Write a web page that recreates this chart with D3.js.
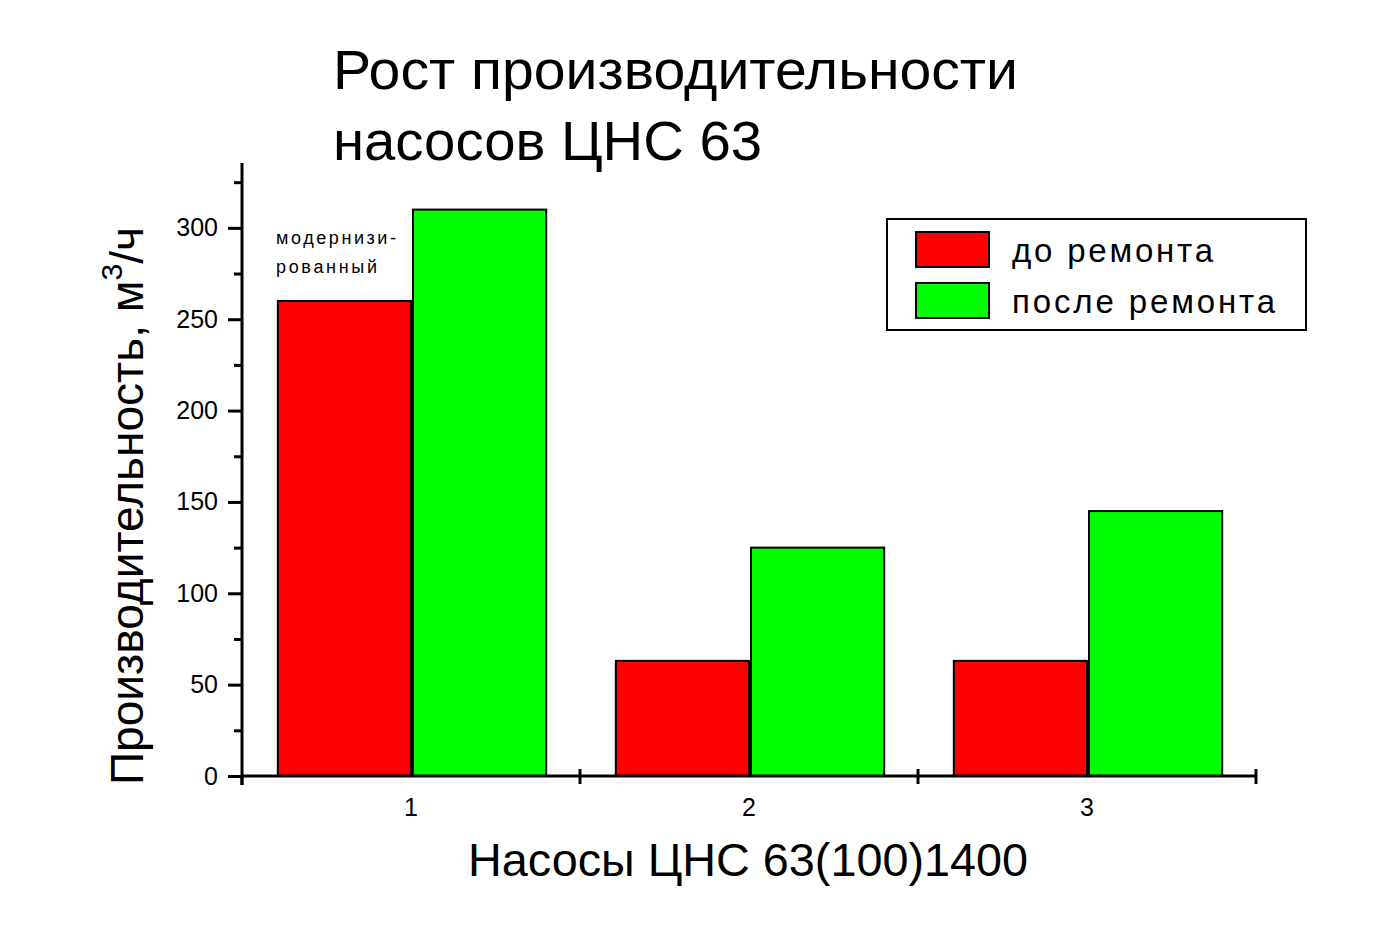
<!DOCTYPE html>
<html><head><meta charset="utf-8">
<script src="https://cdn.jsdelivr.net/npm/d3@7"></script>
<style>
html,body{margin:0;padding:0;background:#fff;}
text{font-family:"Liberation Sans",Arial,sans-serif;fill:#000;}
</style></head>
<body>
<svg id="chart" width="1400" height="950"></svg>
<script>
const categories = [1, 2, 3];
const seriesNames = ["до ремонта", "после ремонта"];
const beforeRepair = [260, 63, 63];
const afterRepair = [310, 125, 145];
const seriesColors = ["#ff0000", "#00ff00"];
const yTickValues = [0, 50, 100, 150, 200, 250, 300];
const yMinorTickValues = [25, 75, 125, 175, 225, 275, 325];
const xBoundaryTicks = [1.5, 2.5, 3.5];
const titleLines = ["Рост производительности", "насосов ЦНС 63"];
const xTitle = "Насосы ЦНС 63(100)1400";
const annotationLines = ["модернизи-", "рованный"];

const svg = d3.select("#chart");
const x = d3.scaleLinear().domain([0.5, 3.5]).range([242, 1256]);
const y = d3.scaleLinear().domain([0, 335.5]).range([776, 163]);
const barW = 0.394;

// Title
titleLines.forEach((t, i) => {
  svg.append("text").attr("x", 333).attr("y", 89 + i * 71)
    .attr("font-size", 56).attr("textLength", i === 0 ? 685 : 429)
    .attr("lengthAdjust", "spacingAndGlyphs").text(t);
});

// Bars
const seriesData = [beforeRepair, afterRepair];
seriesData.forEach((vals, s) => {
  svg.append("g").selectAll("rect").data(categories).enter().append("rect")
    .attr("x", (c) => s === 0 ? x(c - barW) : x(c) + 2)
    .attr("width", (c) => x(c) - x(c - barW) )
    .attr("y", (c, i) => y(vals[i]))
    .attr("height", (c, i) => y(0) - y(vals[i]))
    .attr("fill", seriesColors[s]).attr("stroke", "#000").attr("stroke-width", 2);
});

// Y axis
const yAxis = d3.axisLeft(y).tickValues(yTickValues).tickSize(14).tickPadding(10).tickFormat(d3.format("d"));
const gy = svg.append("g").attr("transform", "translate(242,0)").call(yAxis);
gy.select(".domain").attr("stroke-width", 3).attr("d", `M0,${y(335.5)}V${y(0)+9}`);
gy.selectAll(".tick line").attr("stroke-width", 3);
gy.selectAll(".tick text").attr("font-size", 25).attr("font-family", "Liberation Sans, Arial, sans-serif");
const yMinor = d3.axisLeft(y).tickValues(yMinorTickValues).tickSize(8).tickFormat("");
const gym = svg.append("g").attr("transform", "translate(242,0)").call(yMinor);
gym.select(".domain").remove();
gym.selectAll(".tick line").attr("stroke-width", 3);

// X axis
const gx = svg.append("g").attr("transform", `translate(0,${y(0)})`);
gx.append("line").attr("x1", x(0.5)).attr("x2", x(3.5)).attr("y1", 0).attr("y2", 0)
  .attr("stroke", "#000").attr("stroke-width", 3);
gx.selectAll("line.bt").data(xBoundaryTicks).enter().append("line").attr("class", "bt")
  .attr("x1", d => x(d)).attr("x2", d => x(d)).attr("y1", -7).attr("y2", 8)
  .attr("stroke", "#000").attr("stroke-width", 3);
gx.append("line").attr("x1", x(0.5)).attr("x2", x(0.5)).attr("y1", 0).attr("y2", 9)
  .attr("stroke", "#000").attr("stroke-width", 3);
gx.selectAll("text.cl").data(categories).enter().append("text").attr("class", "cl")
  .attr("x", d => x(d)).attr("y", 40).attr("text-anchor", "middle").attr("font-size", 25)
  .text(d => d);

// Axis titles
svg.append("text").attr("x", 748).attr("y", 876).attr("text-anchor", "middle")
  .attr("font-size", 47).attr("textLength", 560).attr("lengthAdjust", "spacingAndGlyphs").text(xTitle);

const yt = svg.append("text").attr("transform", "translate(143,785) rotate(-90)")
  .attr("font-size", 46).attr("textLength", 558).attr("lengthAdjust", "spacingAndGlyphs");
yt.append("tspan").text("Производительность, м");
yt.append("tspan").attr("font-size", 30).attr("dy", -21).text("3");
yt.append("tspan").attr("dy", 21).text("/ч");

// Annotation
annotationLines.forEach((t, i) => {
  svg.append("text").attr("x", 276).attr("y", 244 + i * 29).attr("font-size", 18)
    .attr("textLength", i === 0 ? 120 : 101).attr("lengthAdjust", "spacing").text(t);
});

// Legend
const lg = svg.append("g");
lg.append("rect").attr("x", 887).attr("y", 219).attr("width", 419).attr("height", 111)
  .attr("fill", "#fff").attr("stroke", "#000").attr("stroke-width", 2);
seriesNames.forEach((n, i) => {
  lg.append("rect").attr("x", 916).attr("y", 232 + i * 51).attr("width", 73).attr("height", 35)
    .attr("fill", seriesColors[i]).attr("stroke", "#000").attr("stroke-width", 2);
  lg.append("text").attr("x", 1012).attr("y", 262 + i * 51).attr("font-size", 33)
    .attr("textLength", i === 0 ? 201 : 263).attr("lengthAdjust", "spacing").text(n);
});
</script>
</body></html>
